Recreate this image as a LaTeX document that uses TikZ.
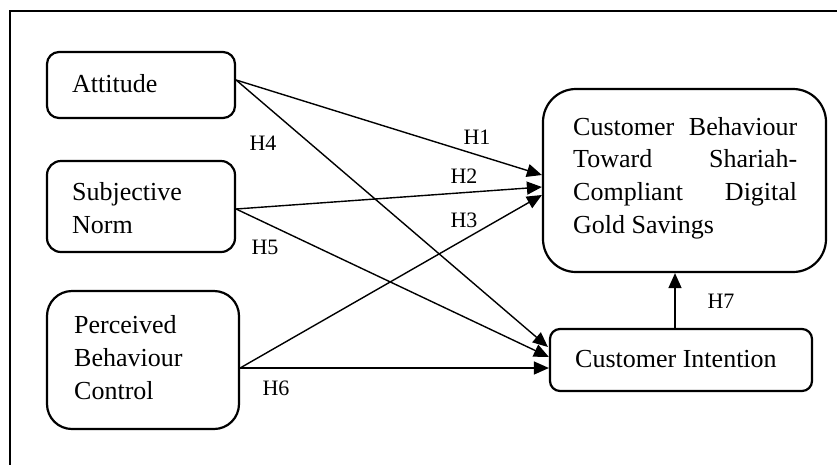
\documentclass[tikz,border=0pt]{standalone}
\usepackage{fontspec}
\setmainfont{Liberation Serif}
\usetikzlibrary{arrows.meta}
\begin{document}
\begin{tikzpicture}[x=1pt,y=-1pt,
  box/.style={draw, line width=2.2pt, rectangle, inner sep=0pt},
  txt/.style={inner sep=0pt, anchor=base west, font=\fontsize{26}{33}\selectfont},
  hlab/.style={inner sep=0pt, font=\fontsize{22}{26}\selectfont},
  conn/.style={line width=1.4pt, -{Triangle[length=15pt,width=13pt]}}
]
\useasboundingbox (0,0) rectangle (837,464);
\begin{scope}
\clip (0,0) rectangle (837,464);
\draw[line width=2pt] (10,11) rectangle (860,490);
\end{scope}

% boxes
\node[box, rounded corners=12pt, minimum width=188pt, minimum height=66pt] (att) at (141,85) {};
\node[box, rounded corners=14pt, minimum width=188pt, minimum height=91pt] (sn) at (141,206.5) {};
\node[box, rounded corners=25pt, minimum width=192pt, minimum height=138pt] (pbc) at (143,360) {};
\node[box, rounded corners=33pt, minimum width=283pt, minimum height=183pt] (cb) at (684.5,180.5) {};
\node[box, rounded corners=10pt, minimum width=262pt, minimum height=62pt] (ci) at (681,360) {};

% texts
\node[txt] (attT) at (72,92) {Attitude};
\node[txt] (snT1) at (72,200) {Subjective};
\node[txt] (snT2) at (72,233) {Norm};
\node[txt] (pbcT1) at (74,333) {Perceived};
\node[txt] (pbcT2) at (74,366) {Behaviour};
\node[txt] (pbcT3) at (74,399) {Control};
\node[txt] (cbT1) at (573,135) {\hbox to 224pt{Customer\hfill Behaviour}};
\node[txt] (cbT2) at (573,167) {\hbox to 224pt{Toward\hfill Shariah-}};
\node[txt] (cbT3) at (573,200) {\hbox to 224pt{Compliant\hfill Digital}};
\node[txt] (cbT4) at (573,233) {Gold Savings};
\node[txt] (ciT) at (575,367) {Customer Intention};

% connectors
\draw[conn] ([yshift=5pt]att.east) -- ([yshift=5.5pt]cb.west);
\draw[conn] ([yshift=5pt]att.east) -- ([xshift=-1pt,yshift=13pt]ci.west);
\draw[conn] ([yshift=-2.5pt]sn.east) -- ([yshift=-6.5pt]cb.west);
\draw[conn] ([yshift=-2.5pt]sn.east) -- ([yshift=3pt]ci.west);
\draw[conn] ([yshift=-8pt]pbc.east) -- ([yshift=-14.5pt]cb.west);
\draw[conn] ([yshift=-8pt]pbc.east) -- ([yshift=-8pt]ci.west);
\draw[conn] ([xshift=-6pt]ci.north) -- ([xshift=-9.5pt]cb.south);

% labels
\node[hlab] (h1) at (477,137) {H1};
\node[hlab] (h2) at (464,176) {H2};
\node[hlab] (h3) at (464,220) {H3};
\node[hlab] (h4) at (263,143) {H4};
\node[hlab] (h5) at (265,247) {H5};
\node[hlab] (h6) at (276,388) {H6};
\node[hlab] (h7) at (721,301) {H7};
\end{tikzpicture}
\end{document}
